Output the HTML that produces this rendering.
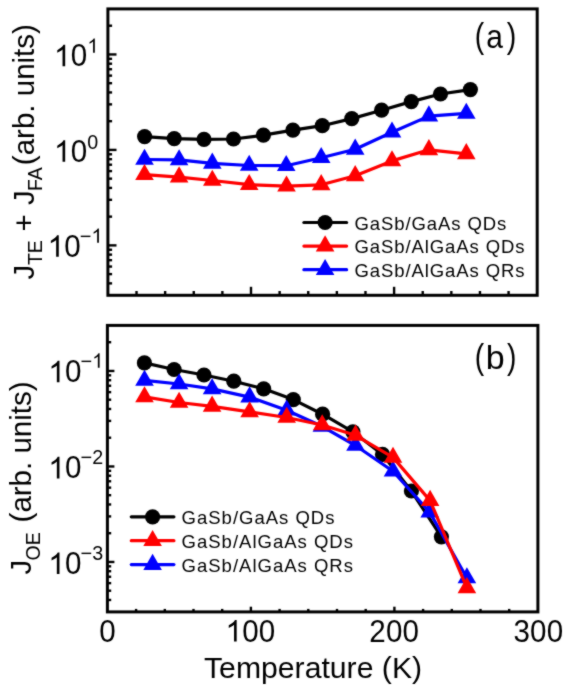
<!DOCTYPE html>
<html><head><meta charset="utf-8"><style>
html,body{margin:0;padding:0;background:#fff;}
svg{display:block;will-change:transform;}
text{font-family:"Liberation Sans",sans-serif;fill:#000;}
</style></head><body>
<svg width="570" height="691" viewBox="0 0 570 691">
<defs><filter id="soft" filterUnits="userSpaceOnUse" x="0" y="0" width="570" height="691" color-interpolation-filters="sRGB"><feConvolveMatrix order="3" kernelMatrix="1 2 1 2 16 2 1 2 1" divisor="28" edgeMode="duplicate"/></filter></defs>
<g filter="url(#soft)">
<rect width="570" height="691" fill="#fff"/>
<rect x="107.9" y="8.9" width="429.30" height="286.40" fill="none" stroke="#000" stroke-width="3.0"/>
<rect x="107.4" y="325.4" width="430.50" height="286.50" fill="none" stroke="#000" stroke-width="3.0"/>
<line x1="107.90" y1="283.37" x2="112.10" y2="283.37" stroke="#000" stroke-width="2.4"/>
<line x1="107.90" y1="274.12" x2="112.10" y2="274.12" stroke="#000" stroke-width="2.4"/>
<line x1="107.90" y1="266.56" x2="112.10" y2="266.56" stroke="#000" stroke-width="2.4"/>
<line x1="107.90" y1="260.17" x2="112.10" y2="260.17" stroke="#000" stroke-width="2.4"/>
<line x1="107.90" y1="254.63" x2="112.10" y2="254.63" stroke="#000" stroke-width="2.4"/>
<line x1="107.90" y1="249.75" x2="112.10" y2="249.75" stroke="#000" stroke-width="2.4"/>
<line x1="107.90" y1="245.38" x2="116.50" y2="245.38" stroke="#000" stroke-width="2.4"/>
<line x1="107.90" y1="216.64" x2="112.10" y2="216.64" stroke="#000" stroke-width="2.4"/>
<line x1="107.90" y1="199.83" x2="112.10" y2="199.83" stroke="#000" stroke-width="2.4"/>
<line x1="107.90" y1="187.91" x2="112.10" y2="187.91" stroke="#000" stroke-width="2.4"/>
<line x1="107.90" y1="178.65" x2="112.10" y2="178.65" stroke="#000" stroke-width="2.4"/>
<line x1="107.90" y1="171.10" x2="112.10" y2="171.10" stroke="#000" stroke-width="2.4"/>
<line x1="107.90" y1="164.70" x2="112.10" y2="164.70" stroke="#000" stroke-width="2.4"/>
<line x1="107.90" y1="159.17" x2="112.10" y2="159.17" stroke="#000" stroke-width="2.4"/>
<line x1="107.90" y1="154.28" x2="112.10" y2="154.28" stroke="#000" stroke-width="2.4"/>
<line x1="107.90" y1="149.92" x2="116.50" y2="149.92" stroke="#000" stroke-width="2.4"/>
<line x1="107.90" y1="121.18" x2="112.10" y2="121.18" stroke="#000" stroke-width="2.4"/>
<line x1="107.90" y1="104.37" x2="112.10" y2="104.37" stroke="#000" stroke-width="2.4"/>
<line x1="107.90" y1="92.44" x2="112.10" y2="92.44" stroke="#000" stroke-width="2.4"/>
<line x1="107.90" y1="83.19" x2="112.10" y2="83.19" stroke="#000" stroke-width="2.4"/>
<line x1="107.90" y1="75.63" x2="112.10" y2="75.63" stroke="#000" stroke-width="2.4"/>
<line x1="107.90" y1="69.24" x2="112.10" y2="69.24" stroke="#000" stroke-width="2.4"/>
<line x1="107.90" y1="63.70" x2="112.10" y2="63.70" stroke="#000" stroke-width="2.4"/>
<line x1="107.90" y1="58.82" x2="112.10" y2="58.82" stroke="#000" stroke-width="2.4"/>
<line x1="107.90" y1="54.45" x2="116.50" y2="54.45" stroke="#000" stroke-width="2.4"/>
<line x1="107.90" y1="25.71" x2="112.10" y2="25.71" stroke="#000" stroke-width="2.4"/>
<line x1="107.40" y1="599.97" x2="111.20" y2="599.97" stroke="#000" stroke-width="2.4"/>
<line x1="107.40" y1="590.71" x2="111.20" y2="590.71" stroke="#000" stroke-width="2.4"/>
<line x1="107.40" y1="583.15" x2="111.20" y2="583.15" stroke="#000" stroke-width="2.4"/>
<line x1="107.40" y1="576.76" x2="111.20" y2="576.76" stroke="#000" stroke-width="2.4"/>
<line x1="107.40" y1="571.22" x2="111.20" y2="571.22" stroke="#000" stroke-width="2.4"/>
<line x1="107.40" y1="566.33" x2="111.20" y2="566.33" stroke="#000" stroke-width="2.4"/>
<line x1="107.40" y1="561.97" x2="114.40" y2="561.97" stroke="#000" stroke-width="2.4"/>
<line x1="107.40" y1="533.22" x2="111.20" y2="533.22" stroke="#000" stroke-width="2.4"/>
<line x1="107.40" y1="516.40" x2="111.20" y2="516.40" stroke="#000" stroke-width="2.4"/>
<line x1="107.40" y1="504.47" x2="111.20" y2="504.47" stroke="#000" stroke-width="2.4"/>
<line x1="107.40" y1="495.21" x2="111.20" y2="495.21" stroke="#000" stroke-width="2.4"/>
<line x1="107.40" y1="487.65" x2="111.20" y2="487.65" stroke="#000" stroke-width="2.4"/>
<line x1="107.40" y1="481.26" x2="111.20" y2="481.26" stroke="#000" stroke-width="2.4"/>
<line x1="107.40" y1="475.72" x2="111.20" y2="475.72" stroke="#000" stroke-width="2.4"/>
<line x1="107.40" y1="470.83" x2="111.20" y2="470.83" stroke="#000" stroke-width="2.4"/>
<line x1="107.40" y1="466.47" x2="114.40" y2="466.47" stroke="#000" stroke-width="2.4"/>
<line x1="107.40" y1="437.72" x2="111.20" y2="437.72" stroke="#000" stroke-width="2.4"/>
<line x1="107.40" y1="420.90" x2="111.20" y2="420.90" stroke="#000" stroke-width="2.4"/>
<line x1="107.40" y1="408.97" x2="111.20" y2="408.97" stroke="#000" stroke-width="2.4"/>
<line x1="107.40" y1="399.71" x2="111.20" y2="399.71" stroke="#000" stroke-width="2.4"/>
<line x1="107.40" y1="392.15" x2="111.20" y2="392.15" stroke="#000" stroke-width="2.4"/>
<line x1="107.40" y1="385.76" x2="111.20" y2="385.76" stroke="#000" stroke-width="2.4"/>
<line x1="107.40" y1="380.22" x2="111.20" y2="380.22" stroke="#000" stroke-width="2.4"/>
<line x1="107.40" y1="375.33" x2="111.20" y2="375.33" stroke="#000" stroke-width="2.4"/>
<line x1="107.40" y1="370.97" x2="114.40" y2="370.97" stroke="#000" stroke-width="2.4"/>
<line x1="107.40" y1="342.22" x2="111.20" y2="342.22" stroke="#000" stroke-width="2.4"/>
<line x1="136.52" y1="295.30" x2="136.52" y2="291.00" stroke="#000" stroke-width="2.4"/>
<line x1="165.14" y1="295.30" x2="165.14" y2="291.00" stroke="#000" stroke-width="2.4"/>
<line x1="193.76" y1="295.30" x2="193.76" y2="291.00" stroke="#000" stroke-width="2.4"/>
<line x1="222.38" y1="295.30" x2="222.38" y2="291.00" stroke="#000" stroke-width="2.4"/>
<line x1="251.00" y1="295.30" x2="251.00" y2="286.80" stroke="#000" stroke-width="2.4"/>
<line x1="279.62" y1="295.30" x2="279.62" y2="291.00" stroke="#000" stroke-width="2.4"/>
<line x1="308.24" y1="295.30" x2="308.24" y2="291.00" stroke="#000" stroke-width="2.4"/>
<line x1="336.86" y1="295.30" x2="336.86" y2="291.00" stroke="#000" stroke-width="2.4"/>
<line x1="365.48" y1="295.30" x2="365.48" y2="291.00" stroke="#000" stroke-width="2.4"/>
<line x1="394.10" y1="295.30" x2="394.10" y2="286.80" stroke="#000" stroke-width="2.4"/>
<line x1="422.72" y1="295.30" x2="422.72" y2="291.00" stroke="#000" stroke-width="2.4"/>
<line x1="451.34" y1="295.30" x2="451.34" y2="291.00" stroke="#000" stroke-width="2.4"/>
<line x1="479.96" y1="295.30" x2="479.96" y2="291.00" stroke="#000" stroke-width="2.4"/>
<line x1="508.58" y1="295.30" x2="508.58" y2="291.00" stroke="#000" stroke-width="2.4"/>
<line x1="136.10" y1="611.90" x2="136.10" y2="608.90" stroke="#000" stroke-width="2.4"/>
<line x1="164.80" y1="611.90" x2="164.80" y2="608.90" stroke="#000" stroke-width="2.4"/>
<line x1="193.50" y1="611.90" x2="193.50" y2="608.90" stroke="#000" stroke-width="2.4"/>
<line x1="222.20" y1="611.90" x2="222.20" y2="608.90" stroke="#000" stroke-width="2.4"/>
<line x1="250.90" y1="611.90" x2="250.90" y2="606.70" stroke="#000" stroke-width="2.4"/>
<line x1="279.60" y1="611.90" x2="279.60" y2="608.90" stroke="#000" stroke-width="2.4"/>
<line x1="308.30" y1="611.90" x2="308.30" y2="608.90" stroke="#000" stroke-width="2.4"/>
<line x1="337.00" y1="611.90" x2="337.00" y2="608.90" stroke="#000" stroke-width="2.4"/>
<line x1="365.70" y1="611.90" x2="365.70" y2="608.90" stroke="#000" stroke-width="2.4"/>
<line x1="394.40" y1="611.90" x2="394.40" y2="606.70" stroke="#000" stroke-width="2.4"/>
<line x1="423.10" y1="611.90" x2="423.10" y2="608.90" stroke="#000" stroke-width="2.4"/>
<line x1="451.80" y1="611.90" x2="451.80" y2="608.90" stroke="#000" stroke-width="2.4"/>
<line x1="480.50" y1="611.90" x2="480.50" y2="608.90" stroke="#000" stroke-width="2.4"/>
<line x1="509.20" y1="611.90" x2="509.20" y2="608.90" stroke="#000" stroke-width="2.4"/>
<polyline points="144.6,136.6 174.2,138.6 204,139.3 233.5,139 263.4,135.2 292.9,130.2 322.3,125.7 351.8,118.6 381.6,110.2 411.3,101.6 440.5,94 470.4,89.6" fill="none" stroke="#000" stroke-width="3.2" stroke-linejoin="round" stroke-linecap="round"/>
<circle cx="144.6" cy="136.6" r="7.6" fill="#000"/>
<circle cx="174.2" cy="138.6" r="7.6" fill="#000"/>
<circle cx="204" cy="139.3" r="7.6" fill="#000"/>
<circle cx="233.5" cy="139" r="7.6" fill="#000"/>
<circle cx="263.4" cy="135.2" r="7.6" fill="#000"/>
<circle cx="292.9" cy="130.2" r="7.6" fill="#000"/>
<circle cx="322.3" cy="125.7" r="7.6" fill="#000"/>
<circle cx="351.8" cy="118.6" r="7.6" fill="#000"/>
<circle cx="381.6" cy="110.2" r="7.6" fill="#000"/>
<circle cx="411.3" cy="101.6" r="7.6" fill="#000"/>
<circle cx="440.5" cy="94" r="7.6" fill="#000"/>
<circle cx="470.4" cy="89.6" r="7.6" fill="#000"/>
<polyline points="144.5,159.5 179.1,159.9 212.3,163.3 249.2,165.5 286.2,165.7 321.2,157.7 355.2,149.3 392,132.2 428.9,116.1 466.3,113.4" fill="none" stroke="#0000ff" stroke-width="3.2" stroke-linejoin="round" stroke-linecap="round"/>
<path d="M144.50 148.76L153.80 164.87L135.20 164.87Z" fill="#0000ff"/>
<path d="M179.10 149.16L188.40 165.27L169.80 165.27Z" fill="#0000ff"/>
<path d="M212.30 152.56L221.60 168.67L203.00 168.67Z" fill="#0000ff"/>
<path d="M249.20 154.76L258.50 170.87L239.90 170.87Z" fill="#0000ff"/>
<path d="M286.20 154.96L295.50 171.07L276.90 171.07Z" fill="#0000ff"/>
<path d="M321.20 146.96L330.50 163.07L311.90 163.07Z" fill="#0000ff"/>
<path d="M355.20 138.56L364.50 154.67L345.90 154.67Z" fill="#0000ff"/>
<path d="M392.00 121.46L401.30 137.57L382.70 137.57Z" fill="#0000ff"/>
<path d="M428.90 105.36L438.20 121.47L419.60 121.47Z" fill="#0000ff"/>
<path d="M466.30 102.66L475.60 118.77L457.00 118.77Z" fill="#0000ff"/>
<polyline points="144.5,174.7 179.1,177.1 212.3,180.5 249.2,184.7 286.5,186.2 321.2,184.8 355.2,175.8 392,160.9 428.9,149.8 466.3,153.8" fill="none" stroke="#ff0000" stroke-width="3.2" stroke-linejoin="round" stroke-linecap="round"/>
<path d="M144.50 163.96L153.80 180.07L135.20 180.07Z" fill="#ff0000"/>
<path d="M179.10 166.36L188.40 182.47L169.80 182.47Z" fill="#ff0000"/>
<path d="M212.30 169.76L221.60 185.87L203.00 185.87Z" fill="#ff0000"/>
<path d="M249.20 173.96L258.50 190.07L239.90 190.07Z" fill="#ff0000"/>
<path d="M286.50 175.46L295.80 191.57L277.20 191.57Z" fill="#ff0000"/>
<path d="M321.20 174.06L330.50 190.17L311.90 190.17Z" fill="#ff0000"/>
<path d="M355.20 165.06L364.50 181.17L345.90 181.17Z" fill="#ff0000"/>
<path d="M392.00 150.16L401.30 166.27L382.70 166.27Z" fill="#ff0000"/>
<path d="M428.90 139.06L438.20 155.17L419.60 155.17Z" fill="#ff0000"/>
<path d="M466.30 143.06L475.60 159.17L457.00 159.17Z" fill="#ff0000"/>
<polyline points="144.4,362.9 174.1,369.5 204,375 233.8,381.2 263.7,388.8 293.3,399.6 322.6,414.2 352.9,431.8 382.5,454.4 411.4,491 441.4,536.8" fill="none" stroke="#000" stroke-width="3.2" stroke-linejoin="round" stroke-linecap="round"/>
<circle cx="144.4" cy="362.9" r="7.6" fill="#000"/>
<circle cx="174.1" cy="369.5" r="7.6" fill="#000"/>
<circle cx="204" cy="375" r="7.6" fill="#000"/>
<circle cx="233.8" cy="381.2" r="7.6" fill="#000"/>
<circle cx="263.7" cy="388.8" r="7.6" fill="#000"/>
<circle cx="293.3" cy="399.6" r="7.6" fill="#000"/>
<circle cx="322.6" cy="414.2" r="7.6" fill="#000"/>
<circle cx="352.9" cy="431.8" r="7.6" fill="#000"/>
<circle cx="382.5" cy="454.4" r="7.6" fill="#000"/>
<circle cx="411.4" cy="491" r="7.6" fill="#000"/>
<circle cx="441.4" cy="536.8" r="7.6" fill="#000"/>
<polyline points="144.5,380.4 179.1,384 212.1,388.9 249.6,397.1 286.7,410.2 321.9,426.3 355.5,445.5 393,471.2 429.7,512.2 466.9,578" fill="none" stroke="#0000ff" stroke-width="3.2" stroke-linejoin="round" stroke-linecap="round"/>
<path d="M144.50 369.66L153.80 385.77L135.20 385.77Z" fill="#0000ff"/>
<path d="M179.10 373.26L188.40 389.37L169.80 389.37Z" fill="#0000ff"/>
<path d="M212.10 378.16L221.40 394.27L202.80 394.27Z" fill="#0000ff"/>
<path d="M249.60 386.36L258.90 402.47L240.30 402.47Z" fill="#0000ff"/>
<path d="M286.70 399.46L296.00 415.57L277.40 415.57Z" fill="#0000ff"/>
<path d="M321.90 415.56L331.20 431.67L312.60 431.67Z" fill="#0000ff"/>
<path d="M355.50 434.76L364.80 450.87L346.20 450.87Z" fill="#0000ff"/>
<path d="M393.00 460.46L402.30 476.57L383.70 476.57Z" fill="#0000ff"/>
<path d="M429.70 501.46L439.00 517.57L420.40 517.57Z" fill="#0000ff"/>
<path d="M466.90 567.26L476.20 583.37L457.60 583.37Z" fill="#0000ff"/>
<polyline points="144.5,396.9 179.1,402.5 212.1,406.3 249.6,411.9 286.7,417.5 322.2,425 355.5,435.3 393,457.4 430.1,500.6 466.9,587.8" fill="none" stroke="#ff0000" stroke-width="3.2" stroke-linejoin="round" stroke-linecap="round"/>
<path d="M144.50 386.16L153.80 402.27L135.20 402.27Z" fill="#ff0000"/>
<path d="M179.10 391.76L188.40 407.87L169.80 407.87Z" fill="#ff0000"/>
<path d="M212.10 395.56L221.40 411.67L202.80 411.67Z" fill="#ff0000"/>
<path d="M249.60 401.16L258.90 417.27L240.30 417.27Z" fill="#ff0000"/>
<path d="M286.70 406.76L296.00 422.87L277.40 422.87Z" fill="#ff0000"/>
<path d="M322.20 414.26L331.50 430.37L312.90 430.37Z" fill="#ff0000"/>
<path d="M355.50 424.56L364.80 440.67L346.20 440.67Z" fill="#ff0000"/>
<path d="M393.00 446.66L402.30 462.77L383.70 462.77Z" fill="#ff0000"/>
<path d="M430.10 489.86L439.40 505.97L420.80 505.97Z" fill="#ff0000"/>
<path d="M466.90 577.06L476.20 593.17L457.60 593.17Z" fill="#ff0000"/>
<line x1="303.9" y1="222.5" x2="346.6" y2="222.5" stroke="#000" stroke-width="3.2" stroke-linecap="round"/>
<circle cx="325.1" cy="222.5" r="7.6" fill="#000"/>
<text x="354.4" y="229.70" font-size="18.5" letter-spacing="0.92">GaSb/GaAs QDs</text>
<line x1="303.9" y1="246.1" x2="346.6" y2="246.1" stroke="#ff0000" stroke-width="3.2" stroke-linecap="round"/>
<path d="M325.10 235.36L334.40 251.47L315.80 251.47Z" fill="#ff0000"/>
<text x="354.4" y="253.30" font-size="18.5" letter-spacing="0.92">GaSb/AlGaAs QDs</text>
<line x1="303.9" y1="269.7" x2="346.6" y2="269.7" stroke="#0000ff" stroke-width="3.2" stroke-linecap="round"/>
<path d="M325.10 258.96L334.40 275.07L315.80 275.07Z" fill="#0000ff"/>
<text x="354.4" y="276.90" font-size="18.5" letter-spacing="0.92">GaSb/AlGaAs QRs</text>
<line x1="131.3" y1="516.8" x2="173.9" y2="516.8" stroke="#000" stroke-width="3.2" stroke-linecap="round"/>
<circle cx="152.6" cy="516.8" r="7.6" fill="#000"/>
<text x="181.6" y="524.10" font-size="18.5" letter-spacing="1.0">GaSb/GaAs QDs</text>
<line x1="131.3" y1="540.7" x2="173.9" y2="540.7" stroke="#ff0000" stroke-width="3.2" stroke-linecap="round"/>
<path d="M152.60 529.96L161.90 546.07L143.30 546.07Z" fill="#ff0000"/>
<text x="181.6" y="548.00" font-size="18.5" letter-spacing="1.0">GaSb/AlGaAs QDs</text>
<line x1="131.3" y1="564.6" x2="173.9" y2="564.6" stroke="#0000ff" stroke-width="3.2" stroke-linecap="round"/>
<path d="M152.60 553.86L161.90 569.97L143.30 569.97Z" fill="#0000ff"/>
<text x="181.6" y="571.90" font-size="18.5" letter-spacing="1.0">GaSb/AlGaAs QRs</text>
<path d="M763 0H583V1147Q518 1085 412.5 1023Q307 961 223 930V1104Q374 1175 487 1276Q600 1377 647 1471H763Z" transform="translate(54.00 66.30) scale(0.01465 -0.01465)" fill="#000"/>
<text transform="translate(70.68 66.30) scale(0.985 1.03)" font-size="30">0</text>
<path d="M763 0H583V1147Q518 1085 412.5 1023Q307 961 223 930V1104Q374 1175 487 1276Q600 1377 647 1471H763Z" transform="translate(87.37 52.80) scale(0.00977 -0.00977)" fill="#000"/>
<path d="M763 0H583V1147Q518 1085 412.5 1023Q307 961 223 930V1104Q374 1175 487 1276Q600 1377 647 1471H763Z" transform="translate(54.00 161.80) scale(0.01465 -0.01465)" fill="#000"/>
<text transform="translate(70.68 161.80) scale(0.985 1.03)" font-size="30">0</text>
<text transform="translate(87.37 148.70) scale(0.985 1.03)" font-size="20">0</text>
<path d="M763 0H583V1147Q518 1085 412.5 1023Q307 961 223 930V1104Q374 1175 487 1276Q600 1377 647 1471H763Z" transform="translate(47.60 256.80) scale(0.01465 -0.01465)" fill="#000"/>
<text transform="translate(64.28 256.80) scale(0.985 1.03)" font-size="30">0</text>
<text x="79.77" y="242.80" font-size="20">&#8722;</text>
<path d="M763 0H583V1147Q518 1085 412.5 1023Q307 961 223 930V1104Q374 1175 487 1276Q600 1377 647 1471H763Z" transform="translate(91.45 242.80) scale(0.00977 -0.00977)" fill="#000"/>
<path d="M763 0H583V1147Q518 1085 412.5 1023Q307 961 223 930V1104Q374 1175 487 1276Q600 1377 647 1471H763Z" transform="translate(48.30 382.30) scale(0.01465 -0.01465)" fill="#000"/>
<text transform="translate(64.98 382.30) scale(0.985 1.03)" font-size="30">0</text>
<text x="80.47" y="367.70" font-size="20">&#8722;</text>
<path d="M763 0H583V1147Q518 1085 412.5 1023Q307 961 223 930V1104Q374 1175 487 1276Q600 1377 647 1471H763Z" transform="translate(92.15 367.70) scale(0.00977 -0.00977)" fill="#000"/>
<path d="M763 0H583V1147Q518 1085 412.5 1023Q307 961 223 930V1104Q374 1175 487 1276Q600 1377 647 1471H763Z" transform="translate(48.30 478.40) scale(0.01465 -0.01465)" fill="#000"/>
<text transform="translate(64.98 478.40) scale(0.985 1.03)" font-size="30">0</text>
<text x="80.47" y="464.40" font-size="20">&#8722;</text>
<text transform="translate(92.15 464.40) scale(0.985 1.03)" font-size="20">2</text>
<path d="M763 0H583V1147Q518 1085 412.5 1023Q307 961 223 930V1104Q374 1175 487 1276Q600 1377 647 1471H763Z" transform="translate(48.30 574.00) scale(0.01465 -0.01465)" fill="#000"/>
<text transform="translate(64.98 574.00) scale(0.985 1.03)" font-size="30">0</text>
<text x="80.47" y="559.80" font-size="20">&#8722;</text>
<text transform="translate(92.15 559.80) scale(0.985 1.03)" font-size="20">3</text>
<text transform="translate(99.30 641.50) scale(0.985 1.03)" font-size="30">0</text>
<path d="M763 0H583V1147Q518 1085 412.5 1023Q307 961 223 930V1104Q374 1175 487 1276Q600 1377 647 1471H763Z" transform="translate(225.50 641.50) scale(0.01465 -0.01465)" fill="#000"/>
<text transform="translate(242.18 641.50) scale(0.985 1.03)" font-size="30">0</text>
<text transform="translate(258.87 641.50) scale(0.985 1.03)" font-size="30">0</text>
<text transform="translate(369.20 641.50) scale(0.985 1.03)" font-size="30">2</text>
<text transform="translate(385.88 641.50) scale(0.985 1.03)" font-size="30">0</text>
<text transform="translate(402.57 641.50) scale(0.985 1.03)" font-size="30">0</text>
<text transform="translate(513.40 641.50) scale(0.985 1.03)" font-size="30">3</text>
<text transform="translate(530.08 641.50) scale(0.985 1.03)" font-size="30">0</text>
<text transform="translate(546.77 641.50) scale(0.985 1.03)" font-size="30">0</text>
<text x="204.0" y="678.3" font-size="30.2">Temperature (K)</text>
<text transform="translate(474.85 47.60) scale(0.808 1)" font-size="35">(</text>
<text transform="translate(486.23 47.60) scale(0.895 1)" font-size="33.5">a</text>
<text transform="translate(506.83 47.60) scale(0.819 1)" font-size="35">)</text>
<text transform="translate(474.85 368.50) scale(0.808 1)" font-size="35">(</text>
<text transform="translate(485.81 368.50) scale(1.016 1)" font-size="33.5">b</text>
<text transform="translate(507.03 368.50) scale(0.808 1)" font-size="35">)</text>
<text transform="translate(33.90 279.56) rotate(-90)" font-size="29.5">J</text>
<text transform="translate(42.40 265.04) rotate(-90)" font-size="19.5">TE</text>
<text transform="translate(33.90 231.44) rotate(-90)" font-size="29.5">+</text>
<text transform="translate(33.90 205.06) rotate(-90)" font-size="29.5">J</text>
<text transform="translate(42.40 191.10) rotate(-90)" font-size="19.5">FA</text>
<text transform="translate(33.90 165.13) rotate(-90)" font-size="29.5">(arb. units)</text>
<text transform="translate(31.10 574.56) rotate(-90)" font-size="29.5">J</text>
<text transform="translate(40.30 560.42) rotate(-90)" font-size="19.5">OE</text>
<text transform="translate(31.20 522.43) rotate(-90)" font-size="29.5">(arb. units)</text>
</g>
</svg>
</body></html>
